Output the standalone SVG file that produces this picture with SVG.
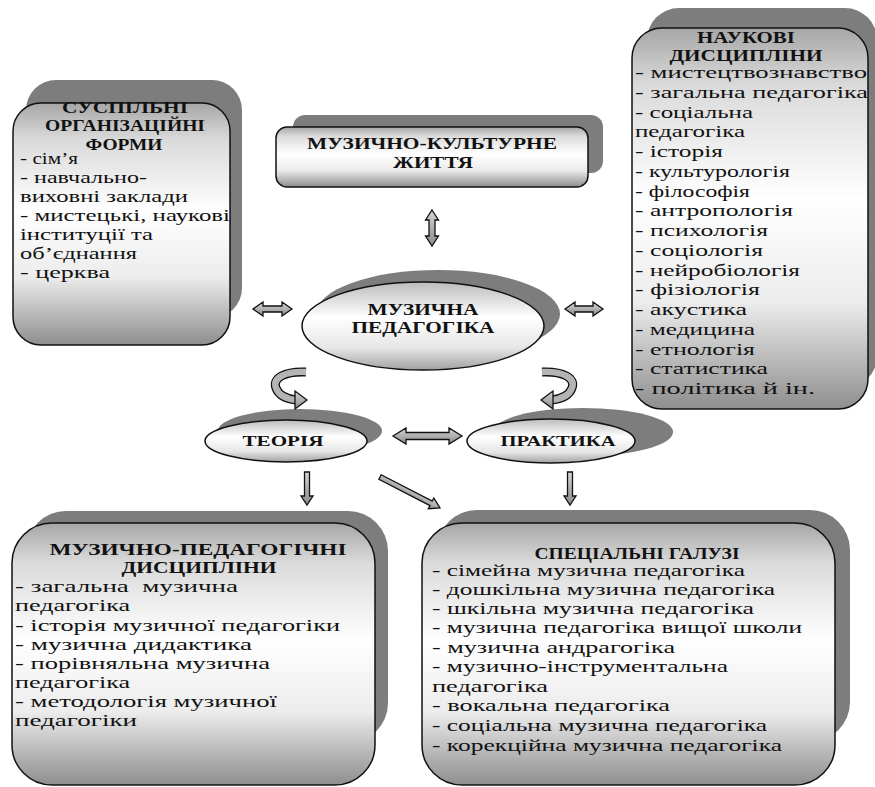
<svg xmlns="http://www.w3.org/2000/svg" width="875" height="787" viewBox="0 0 875 787">
<defs>
<linearGradient id="bg" x1="0" y1="0" x2="0" y2="1">
<stop offset="0" stop-color="#a6a6a6"/>
<stop offset="0.15" stop-color="#dadada"/>
<stop offset="0.45" stop-color="#ffffff"/>
<stop offset="0.72" stop-color="#ececec"/>
<stop offset="1" stop-color="#8e8e8e"/>
</linearGradient>
<linearGradient id="eg" x1="0" y1="0" x2="0" y2="1">
<stop offset="0" stop-color="#bcbcbc"/>
<stop offset="0.4" stop-color="#ffffff"/>
<stop offset="0.75" stop-color="#e6e6e6"/>
<stop offset="1" stop-color="#a2a2a2"/>
</linearGradient>
<linearGradient id="ag" x1="0" y1="0" x2="0" y2="1">
<stop offset="0" stop-color="#d6d6d6"/>
<stop offset="1" stop-color="#8a8a8a"/>
</linearGradient>
<style>
.sh{fill:#7d7d7d}
.bx{fill:url(#bg);stroke:#111;stroke-width:1.5}
.el{fill:url(#eg);stroke:#111;stroke-width:1.5}
.arr{fill:url(#ag);stroke:#111;stroke-width:1.3;stroke-linejoin:miter}
.bo{fill:none;stroke:#111;stroke-width:9}
.bi{fill:none;stroke:#b4b4b4;stroke-width:6.4}
.tx{font-family:'Liberation Serif','DejaVu Serif',serif;font-size:17px;fill:#111}
.b{font-weight:bold}
.c{text-anchor:middle}
.s{font-size:14px}
.m{font-size:16px}
</style>
</defs>
<rect width="875" height="787" fill="#ffffff"/>

<g id="social-forms" class="tx" font-family="Liberation Serif, DejaVu Serif, serif">
<rect class="sh" x="26" y="80" width="216" height="238" rx="30"/>
<rect class="bx" x="13" y="103" width="217" height="242" rx="28"/>
<text class="b c" x="125" y="113" textLength="126" lengthAdjust="spacingAndGlyphs">СУСПІЛЬНІ</text>
<text class="b c" x="125" y="131" textLength="160" lengthAdjust="spacingAndGlyphs">ОРГАНІЗАЦІЙНІ</text>
<text class="b c" x="124" y="150" textLength="77" lengthAdjust="spacingAndGlyphs">ФОРМИ</text>
<text x="20" y="164" textLength="58" lengthAdjust="spacingAndGlyphs">- сім’я</text>
<text x="20" y="183" textLength="127" lengthAdjust="spacingAndGlyphs">- навчально-</text>
<text x="20" y="202" textLength="168" lengthAdjust="spacingAndGlyphs">виховні заклади</text>
<text x="20" y="221" textLength="210" lengthAdjust="spacingAndGlyphs">- мистецькі, наукові</text>
<text x="20" y="240" textLength="133" lengthAdjust="spacingAndGlyphs">інституції та</text>
<text x="20" y="259" textLength="117" lengthAdjust="spacingAndGlyphs">об’єднання</text>
<text x="20" y="278" textLength="90" lengthAdjust="spacingAndGlyphs">- церква</text>
</g>

<g id="music-culture" class="tx" font-family="Liberation Serif, DejaVu Serif, serif">
<rect class="sh" x="293" y="115" width="310" height="58" rx="12"/>
<rect class="bx" x="276" y="127" width="312" height="60" rx="11"/>
<text class="b c m" x="432" y="149" textLength="250" lengthAdjust="spacingAndGlyphs">МУЗИЧНО-КУЛЬТУРНЕ</text>
<text class="b c m" x="433" y="168" textLength="80" lengthAdjust="spacingAndGlyphs">ЖИТТЯ</text>
</g>

<g id="scientific-disciplines" class="tx" font-family="Liberation Serif, DejaVu Serif, serif">
<rect class="sh" x="647" y="8" width="230" height="380" rx="32"/>
<rect class="bx" x="632" y="28" width="236" height="381" rx="30"/>
<text class="b c" x="746" y="43" textLength="98" lengthAdjust="spacingAndGlyphs">НАУКОВІ</text>
<text class="b c" x="746" y="61" textLength="153" lengthAdjust="spacingAndGlyphs">ДИСЦИПЛІНИ</text>
<text x="635" y="78" textLength="232" lengthAdjust="spacingAndGlyphs">- мистецтвознавство</text>
<text x="635" y="97.8" textLength="233" lengthAdjust="spacingAndGlyphs">- загальна педагогіка</text>
<text x="635" y="117.5" textLength="118" lengthAdjust="spacingAndGlyphs">- соціальна</text>
<text x="635" y="137.3" textLength="110" lengthAdjust="spacingAndGlyphs">педагогіка</text>
<text x="635" y="157" textLength="88" lengthAdjust="spacingAndGlyphs">- історія</text>
<text x="635" y="176.8" textLength="155" lengthAdjust="spacingAndGlyphs">- культурологія</text>
<text x="635" y="196.5" textLength="115" lengthAdjust="spacingAndGlyphs">- філософія</text>
<text x="635" y="216.3" textLength="158" lengthAdjust="spacingAndGlyphs">- антропологія</text>
<text x="635" y="236" textLength="133" lengthAdjust="spacingAndGlyphs">- психологія</text>
<text x="635" y="255.8" textLength="128" lengthAdjust="spacingAndGlyphs">- соціологія</text>
<text x="635" y="275.5" textLength="165" lengthAdjust="spacingAndGlyphs">- нейробіологія</text>
<text x="635" y="295.3" textLength="125" lengthAdjust="spacingAndGlyphs">- фізіологія</text>
<text x="635" y="315" textLength="112" lengthAdjust="spacingAndGlyphs">- акустика</text>
<text x="635" y="334.8" textLength="120" lengthAdjust="spacingAndGlyphs">- медицина</text>
<text x="635" y="354.5" textLength="120" lengthAdjust="spacingAndGlyphs">- етнологія</text>
<text x="635" y="374.3" textLength="133" lengthAdjust="spacingAndGlyphs">- статистика</text>
<text x="635" y="394" textLength="180" lengthAdjust="spacingAndGlyphs">- політика й ін.</text>
</g>

<g id="music-pedagogy" class="tx" font-family="Liberation Serif, DejaVu Serif, serif">
<ellipse class="sh" cx="438" cy="314" rx="122" ry="44"/>
<ellipse class="el" cx="423" cy="326" rx="121" ry="44"/>
<text class="b c" x="423" y="315" textLength="111" lengthAdjust="spacingAndGlyphs">МУЗИЧНА</text>
<text class="b c" x="423" y="333" textLength="143" lengthAdjust="spacingAndGlyphs">ПЕДАГОГІКА</text>
</g>

<g id="theory" class="tx" font-family="Liberation Serif, DejaVu Serif, serif">
<ellipse class="sh" cx="300" cy="431" rx="82" ry="22"/>
<ellipse class="el" cx="286" cy="441" rx="81" ry="21"/>
<text class="b c s" x="283" y="446" textLength="81" lengthAdjust="spacingAndGlyphs">ТЕОРІЯ</text>
</g>

<g id="practice" class="tx" font-family="Liberation Serif, DejaVu Serif, serif">
<ellipse class="sh" cx="583" cy="432" rx="90" ry="24"/>
<ellipse class="el" cx="551" cy="441" rx="84" ry="22"/>
<text class="b c s" x="558" y="446" textLength="115" lengthAdjust="spacingAndGlyphs">ПРАКТИКА</text>
</g>

<g id="music-pedagogical-disciplines" class="tx" font-family="Liberation Serif, DejaVu Serif, serif">
<rect class="sh" x="26" y="511" width="362" height="232" rx="40"/>
<rect class="bx" x="12" y="523" width="363" height="262" rx="40"/>
<text class="b c" x="198" y="555" textLength="297" lengthAdjust="spacingAndGlyphs">МУЗИЧНО-ПЕДАГОГІЧНІ</text>
<text class="b c" x="199" y="573" textLength="155" lengthAdjust="spacingAndGlyphs">ДИСЦИПЛІНИ</text>
<text x="15" y="592" xml:space="preserve" textLength="223" lengthAdjust="spacingAndGlyphs">- загальна  музична</text>
<text x="15" y="611" textLength="115" lengthAdjust="spacingAndGlyphs">педагогіка</text>
<text x="15" y="631" textLength="325" lengthAdjust="spacingAndGlyphs">- історія музичної педагогіки</text>
<text x="15" y="650" textLength="237" lengthAdjust="spacingAndGlyphs">- музична дидактика</text>
<text x="15" y="669" textLength="255" lengthAdjust="spacingAndGlyphs">- порівняльна музична</text>
<text x="15" y="688" textLength="115" lengthAdjust="spacingAndGlyphs">педагогіка</text>
<text x="15" y="707" textLength="262" lengthAdjust="spacingAndGlyphs">- методологія музичної</text>
<text x="15" y="726" textLength="122" lengthAdjust="spacingAndGlyphs">педагогіки</text>
</g>

<g id="special-branches" class="tx" font-family="Liberation Serif, DejaVu Serif, serif">
<rect class="sh" x="437" y="510" width="413" height="232" rx="40"/>
<rect class="bx" x="422" y="523" width="413" height="262" rx="40"/>
<text class="b c" x="637" y="559" textLength="205" lengthAdjust="spacingAndGlyphs">СПЕЦІАЛЬНІ ГАЛУЗІ</text>
<text x="432" y="576" textLength="313" lengthAdjust="spacingAndGlyphs">- сімейна музична педагогіка</text>
<text x="432" y="595" textLength="343" lengthAdjust="spacingAndGlyphs">- дошкільна музична педагогіка</text>
<text x="432" y="614" textLength="322" lengthAdjust="spacingAndGlyphs">- шкільна музична педагогіка</text>
<text x="432" y="633" textLength="370" lengthAdjust="spacingAndGlyphs">- музична педагогіка вищої школи</text>
<text x="432" y="653" textLength="243" lengthAdjust="spacingAndGlyphs">- музична андрагогіка</text>
<text x="432" y="672" textLength="296" lengthAdjust="spacingAndGlyphs">- музично-інструментальна</text>
<text x="432" y="692" textLength="116" lengthAdjust="spacingAndGlyphs">педагогіка</text>
<text x="432" y="711" textLength="238" lengthAdjust="spacingAndGlyphs">- вокальна педагогіка</text>
<text x="432" y="731" textLength="335" lengthAdjust="spacingAndGlyphs">- соціальна музична педагогіка</text>
<text x="432" y="751" textLength="350" lengthAdjust="spacingAndGlyphs">- корекційна музична педагогіка</text>
</g>

<g id="connectors">
<polygon class="arr" points="432,210 438.5,220 435,220 435,236 438.5,236 432,246 425.5,236 429,236 429,220 425.5,220"/>
<polygon class="arr" points="253,309 263,302 263,306 282,306 282,302 292,309 282,316 282,312 263,312 263,316"/>
<polygon class="arr" points="565,309 575,302 575,306 593,306 593,302 603,309 593,316 593,312 575,312 575,316"/>
<polygon class="arr" points="393,436 406,428 406,432.5 449,432.5 449,428 462,436 449,444 449,439.5 406,439.5 406,444"/>
<path class="bo" d="M306,372 C285,371 272,378 276,388 C279,396 287,399 296,400"/>
<path class="bi" d="M306,372 C285,371 272,378 276,388 C279,396 287,399 296,400"/>
<polygon class="arr" points="307,400 295,391 295,409"/>
<path class="bo" d="M542,372 C563,371 576,378 572,388 C569,396 561,399 552,400"/>
<path class="bi" d="M542,372 C563,371 576,378 572,388 C569,396 561,399 552,400"/>
<polygon class="arr" points="541,400 553,391 553,409"/>
<polygon class="arr" points="304.5,472 309.5,472 309.5,496 313,496 307,505 301,496 304.5,496"/>
<polygon class="arr" points="567.5,472 572.5,472 572.5,496 576,496 570,505 564,496 567.5,496"/>
<polygon class="arr" transform="translate(380,477) rotate(27.3)" points="0,-2.5 57.5,-2.5 57.5,-6 67.5,0 57.5,6 57.5,2.5 0,2.5"/>
</g>
</svg>
